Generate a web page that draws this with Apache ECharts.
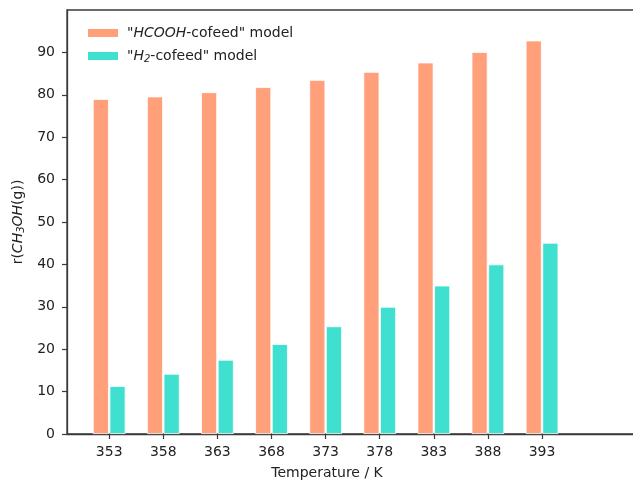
<!DOCTYPE html>
<html>
<head>
<meta charset="utf-8">
<script src="https://cdn.jsdelivr.net/npm/echarts@6/dist/echarts.min.js"></script>
<style>
html,body{margin:0;padding:0;background:#fff;}
#chart{width:633px;height:481px;}
</style>
</head>
<body>
<div id="chart"></div>
<script>
const temperatures = [353, 358, 363, 368, 373, 378, 383, 388, 393];
const hcoohCofeed = [79.0, 79.6, 80.6, 81.8, 83.5, 85.4, 87.6, 90.1, 92.8];
const h2Cofeed = [11.3, 14.2, 17.5, 21.2, 25.4, 30.0, 35.0, 40.0, 45.1];
const seriesNames = ['HCOOH-cofeed model', 'H2-cofeed model'];
const legendLabels = ['"{i|HCOOH}-cofeed" model', '"{i|H}{sub|2}-cofeed" model'];
const yTicks = [0, 10, 20, 30, 40, 50, 60, 70, 80, 90];

const FONT = 'DejaVu Sans';
const chart = echarts.init(document.getElementById('chart'), null, {renderer: 'canvas'});

const option = {
  backgroundColor: '#fff',
  animation: false,
  textStyle: {fontFamily: FONT},
  grid: {
    left: 67, top: 10, right: -14, bottom: 47,
    outerBoundsMode: 'none',
    containLabel: false,
    show: true, borderColor: '#3a3a3a', borderWidth: 1.3, backgroundColor: 'transparent'
  },
  legend: {
    orient: 'vertical',
    left: 81, top: 20,
    itemWidth: 32, itemHeight: 10, itemGap: 7,
    icon: 'rect',
    textStyle: {
      fontFamily: FONT, fontSize: 14, color: '#222', lineHeight: 16, padding: [0, 0, 0, 3],
      rich: {
        i: {fontFamily: FONT, fontSize: 14, fontStyle: 'italic', color: '#222', lineHeight: 16},
        sub: {fontFamily: FONT, fontSize: 10, fontStyle: 'italic', color: '#222', lineHeight: 16, verticalAlign: 'bottom', padding: [5, 0, 0, 0]}
      }
    },
    formatter: function (name) { return legendLabels[seriesNames.indexOf(name)]; }
  },
  xAxis: {
    type: 'value',
    min: 349.1,
    max: 402.7,
    name: 'Temperature / K',
    nameLocation: 'middle',
    nameGap: 32,
    nameTextStyle: {fontFamily: FONT, fontSize: 14, color: '#222', padding: [0, 60, 0, 0]},
    axisLine: {show: true, lineStyle: {color: '#3a3a3a', width: 1.3}},
    axisTick: {show: true, length: 5, lineStyle: {color: '#3a3a3a', width: 1.2}, customValues: temperatures},
    axisLabel: {fontFamily: FONT, fontSize: 14, color: '#222', margin: 11, customValues: temperatures},
    splitLine: {show: false}
  },
  yAxis: {
    type: 'value',
    min: 0, max: 100, interval: 10,
    name: 'r({i|CH}{sub|3}{i|OH}(g))',
    nameLocation: 'middle',
    nameGap: 41,
    nameRotate: 90,
    nameTextStyle: {
      fontFamily: FONT, fontSize: 14, color: '#222',
      rich: {
        i: {fontFamily: FONT, fontSize: 14, fontStyle: 'italic', color: '#222'},
        sub: {fontFamily: FONT, fontSize: 10, fontStyle: 'italic', color: '#222', verticalAlign: 'bottom', padding: [6, 0, 0, 0]}
      }
    },
    axisLine: {show: true, lineStyle: {color: '#3a3a3a', width: 1.3}},
    axisTick: {show: true, length: 5, lineStyle: {color: '#3a3a3a', width: 1.2}, customValues: yTicks},
    axisLabel: {fontFamily: FONT, fontSize: 14, color: '#222', margin: 12, customValues: yTicks},
    splitLine: {show: false}
  },
  series: [
    {
      name: seriesNames[0],
      type: 'bar',
      barWidth: 16,
      barGap: '4%',
      itemStyle: {color: '#FFA07A', borderColor: '#ffffff', borderWidth: 0.8},
      data: temperatures.map((t, i) => [t, hcoohCofeed[i]])
    },
    {
      name: seriesNames[1],
      type: 'bar',
      barWidth: 16,
      barGap: '4%',
      itemStyle: {color: '#40E0D0', borderColor: '#ffffff', borderWidth: 0.8},
      data: temperatures.map((t, i) => [t, h2Cofeed[i]])
    }
  ]
};
chart.setOption(option);
</script>
</body>
</html>
